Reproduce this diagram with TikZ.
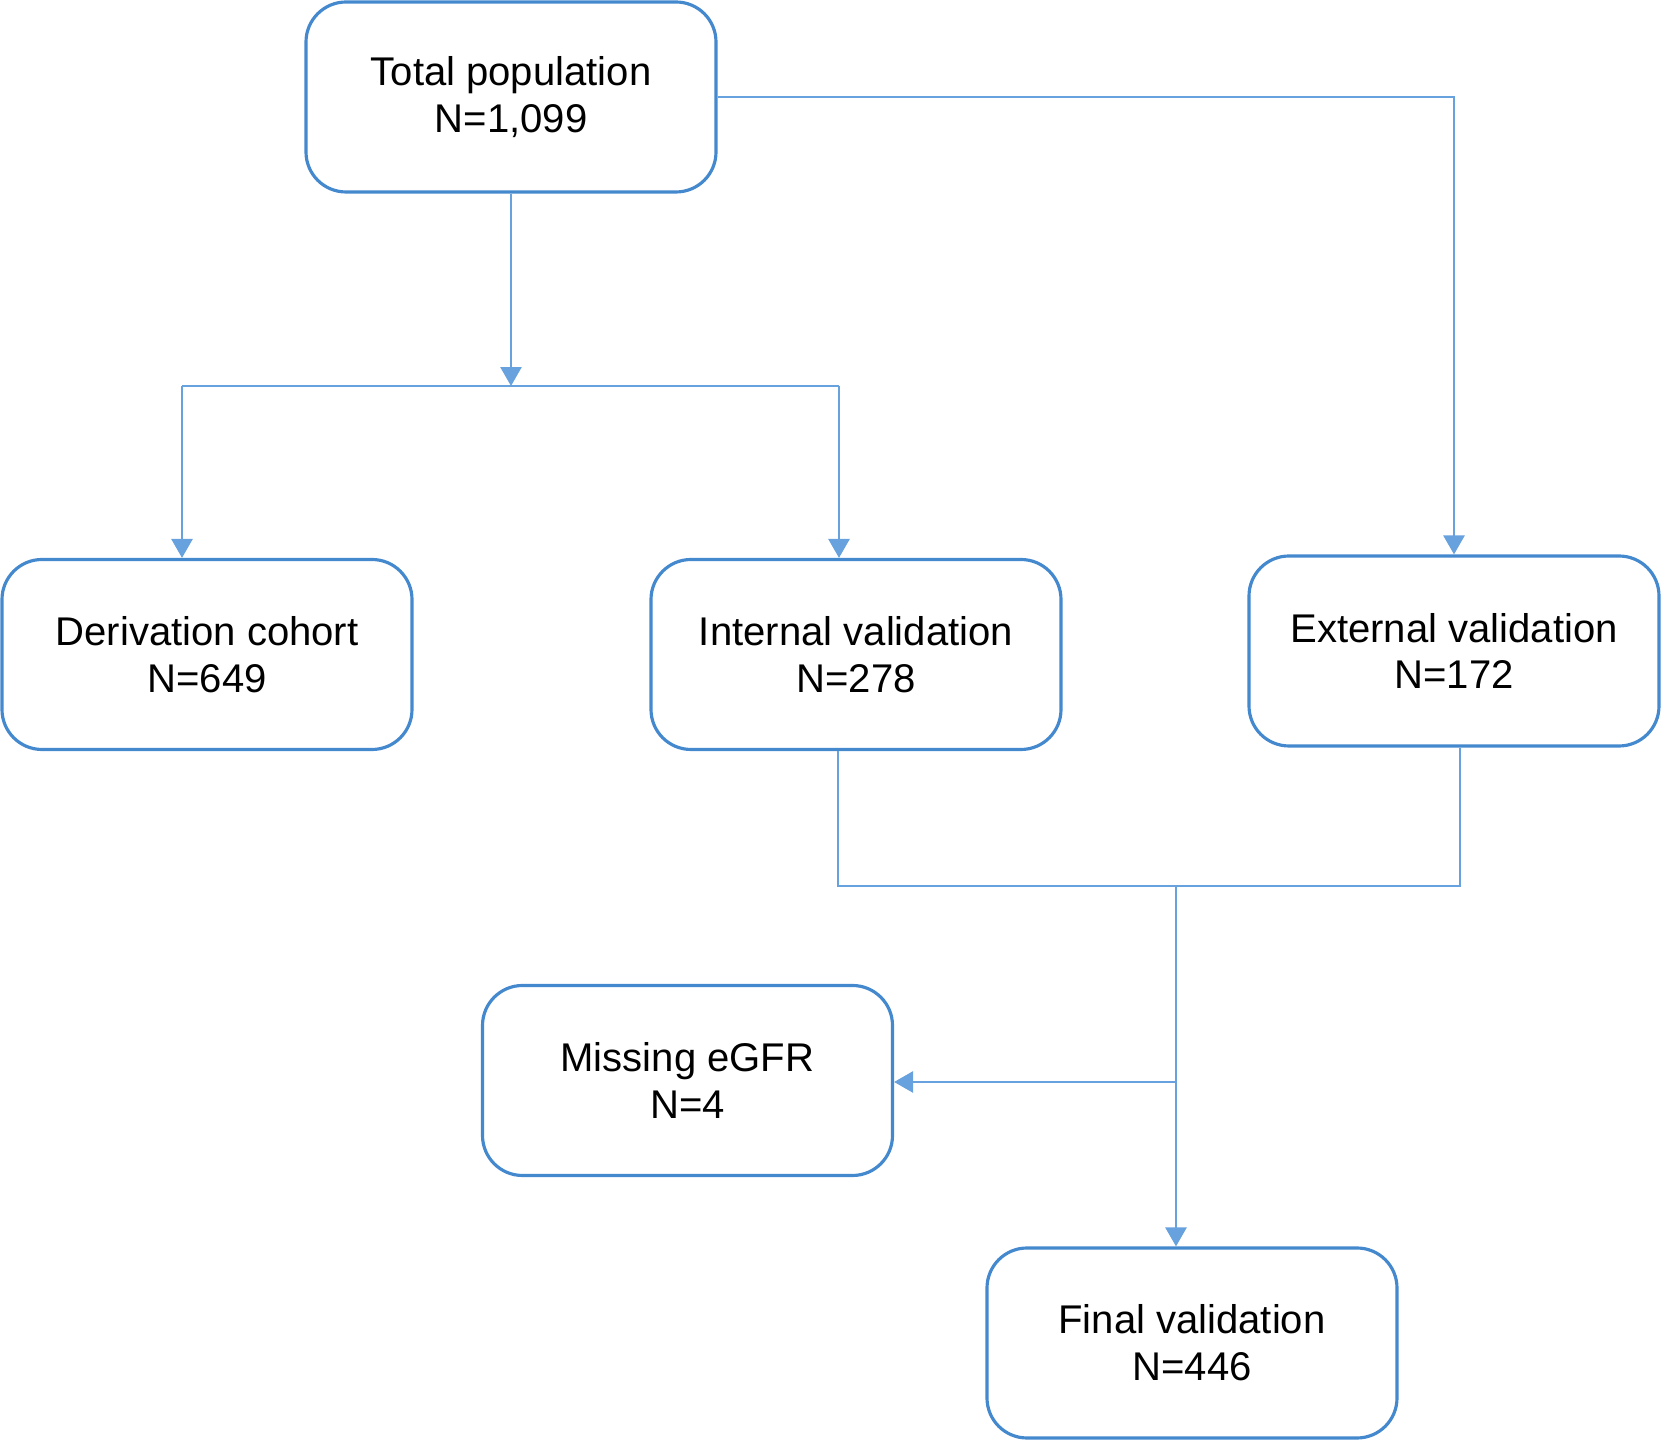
\documentclass[tikz,border=0pt]{standalone}
\usepackage{fontspec}
\setmainfont{Liberation Sans}
\usetikzlibrary{arrows.meta}
\definecolor{boxblue}{RGB}{68,136,206}
\definecolor{lineblue}{RGB}{104,162,222}
\tikzset{
	box/.style={draw=boxblue,line width=0.9pt,rounded corners=0.4cm,fill=white,
		minimum width=4.1cm,minimum height=1.9cm,align=center,
		font=\fontsize{11.4}{13.3}\selectfont},
	link/.style={draw=lineblue,line width=0.7pt},
	arr/.style={link,-{Triangle[width=6pt,length=5.4pt]}}
}
\begin{document}
\begin{tikzpicture}
\useasboundingbox (0,0) rectangle (16.62,14.40);
%boxes
\node[box] (total) at (5.11,13.43) {Total population\\N=1,099};
\node[box] (deriv) at (2.07,7.855) {Derivation cohort\\N=649};
\node[box] (intern) at (8.56,7.855) {Internal validation\\N=278};
\node[box] (extern) at (14.54,7.89) {External validation\\N=172};
\node[box] (missing) at (6.875,3.595) {Missing eGFR\\N=4};
\node[box] (final) at (11.92,0.97) {Final validation\\N=446};
%split
\coordinate (split) at (5.11,10.54);
\coordinate (splitL) at (1.82,10.54);
\coordinate (splitR) at (8.39,10.54);
\draw[arr] (total) -- (split);
\draw[link] (splitL) -- (splitR);
\draw[arr] (splitL) -- (splitL |- deriv.north);
\draw[arr] (splitR) -- (splitR |- intern.north);
\draw[arr] (total.east) -| (extern.north);
%merge
\coordinate (mergeL) at (8.38,5.54);
\coordinate (mergeR) at (14.60,5.54);
\coordinate (merge) at (11.76,5.54);
\coordinate (branch) at (11.76,3.58);
\draw[link] (mergeL |- intern.south) -- (mergeL) -- (mergeR) -- (mergeR |- extern.south);
\draw[arr] (merge) -- (merge |- final.north);
\draw[arr] (branch) -- (branch -| missing.east);
\end{tikzpicture}
\end{document}
